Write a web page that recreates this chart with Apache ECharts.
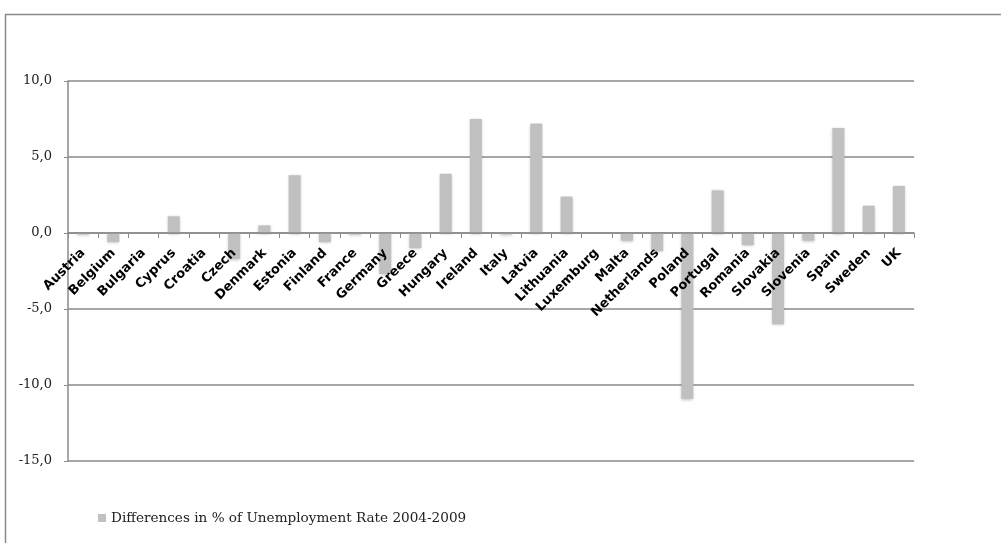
<!DOCTYPE html>
<html>
<head>
<meta charset="utf-8">
<script src="https://cdn.jsdelivr.net/npm/echarts@6/dist/echarts.min.js"></script>
<style>
html,body{margin:0;padding:0;background:#fff;}
#chart{width:1001px;height:543px;}
</style>
</head>
<body>
<div id="chart"></div>
<script>
const categories = ["Austria","Belgium","Bulgaria","Cyprus","Croatia","Czech","Denmark","Estonia","Finland","France","Germany","Greece","Hungary","Ireland","Italy","Latvia","Lithuania","Luxemburg","Malta","Netherlands","Poland","Portugal","Romania","Slovakia","Slovenia","Spain","Sweden","UK"];
const differences = [-0.1,-0.6,0,1.1,0,-1.7,0.5,3.8,-0.6,-0.1,-2.7,-1.0,3.9,7.5,-0.1,7.2,2.4,0,-0.5,-1.2,-10.9,2.8,-0.8,-6.0,-0.5,6.9,1.8,3.1];
const seriesName = "Differences in % of Unemployment Rate 2004-2009";
const yMin = -15, yMax = 10, yStep = 5;

const gridTop = 81, gridBottom = 82, chartH = 543;
const plotH = chartH - gridTop - gridBottom;
const zeroOffset = plotH * (0 - yMin) / (yMax - yMin);

const chart = echarts.init(document.getElementById('chart'));
chart.setOption({
  animation: false,
  backgroundColor: '#fff',
  graphic: [
    {type:'line', shape:{x1:5,y1:14.5,x2:1001,y2:14.5}, style:{stroke:'#8a8a8a', lineWidth:1.5}},
    {type:'line', shape:{x1:5.5,y1:14,x2:5.5,y2:543}, style:{stroke:'#8a8a8a', lineWidth:1.5}}
  ],
  grid: {left: 68, right: 87, top: gridTop, bottom: gridBottom},
  legend: {
    left: 93, top: 506,
    icon: 'rect', itemWidth: 8, itemHeight: 8, itemGap: 5,
    textStyle: {fontFamily: 'DejaVu Serif', fontSize: 13.6, color: '#222'},
    data: [seriesName]
  },
  xAxis: {
    type: 'category',
    position: 'bottom',
    offset: -zeroOffset,
    z: 5,
    data: categories,
    axisLine: {onZero: false, lineStyle: {color: '#8a8a8a', width: 1.5}},
    axisTick: {show: true, length: 5, lineStyle: {color: '#8a8a8a'}},
    axisLabel: {
      interval: 0, rotate: 45, margin: 18,
      fontFamily: 'DejaVu Sans', fontWeight: 'bold', fontSize: 13, color: '#000'
    },
    splitLine: {show: false}
  },
  yAxis: {
    type: 'value',
    min: yMin, max: yMax, interval: yStep,
    axisLine: {show: true, lineStyle: {color: '#8a8a8a', width: 1.5}},
    axisTick: {show: true, length: 4, lineStyle: {color: '#8a8a8a'}},
    axisLabel: {
      margin: 16, fontFamily: 'DejaVu Serif', fontSize: 13, color: '#222',
      formatter: v => v.toFixed(1).replace('.', ',')
    },
    splitLine: {show: true, lineStyle: {color: '#8a8a8a', width: 1.5}}
  },
  series: [{
    name: seriesName,
    type: 'bar',
    data: differences,
    barWidth: 12,
    itemStyle: {color: '#c0c0c0', shadowBlur: 3, shadowColor: 'rgba(0,0,0,0.25)', shadowOffsetY: 1}
  }]
});
</script>
</body>
</html>
